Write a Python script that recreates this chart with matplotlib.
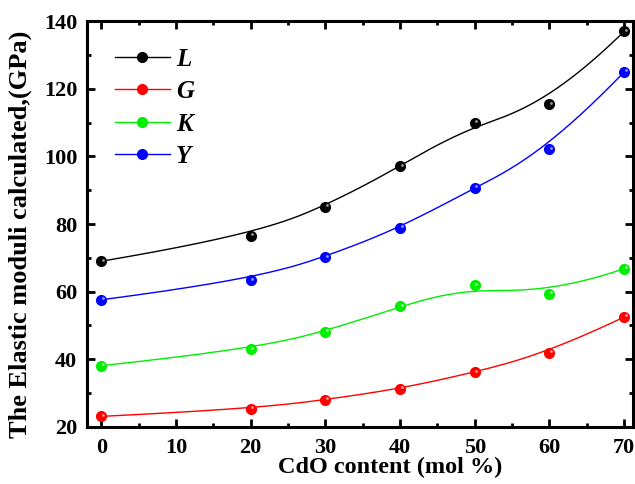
import numpy as np
import matplotlib
matplotlib.use("Agg")
import matplotlib.pyplot as plt
from matplotlib.ticker import MultipleLocator
from matplotlib.transforms import offset_copy

cdo = [0, 20, 30, 40, 50, 60, 70]
L_vals = [69.0, 76.5, 85.1, 97.1, 110.0, 115.4, 137.0]
G_vals = [23.1, 25.3, 28.0, 31.3, 36.1, 42.0, 52.5]
K_vals = [38.1, 42.9, 48.1, 55.7, 61.9, 59.3, 66.8]
Y_vals = [57.6, 63.4, 70.2, 78.9, 90.7, 102.1, 125.0]

series = [("L", L_vals, "black"), ("G", G_vals, "red"),
          ("K", K_vals, "#00ee00"), ("Y", Y_vals, "blue")]

plt.rcParams['font.family'] = ['Liberation Serif', 'DejaVu Serif']
plt.rcParams['font.weight'] = 'bold'


def bspline(px, py, num=300):
    """Clamped cubic B-spline with the data as control points (Origin-style)."""
    P = np.column_stack([px, py]).astype(float)
    n = len(P)
    k = 3
    inner = np.arange(1, n - k)
    t = np.concatenate([[0] * (k + 1), inner, [n - k] * (k + 1)]).astype(float)
    u = np.linspace(0, n - k, num)
    u[-1] -= 1e-9

    def N(i, p, u):
        if p == 0:
            return np.where((t[i] <= u) & (u < t[i + 1]), 1.0, 0.0)
        a = np.zeros_like(u)
        d1 = t[i + p] - t[i]
        if d1 > 0:
            a += (u - t[i]) / d1 * N(i, p - 1, u)
        d2 = t[i + p + 1] - t[i + 1]
        if d2 > 0:
            a += (t[i + p + 1] - u) / d2 * N(i + 1, p - 1, u)
        return a

    B = np.array([N(i, k, u) for i in range(n)])
    C = B.T @ P
    return C[:, 0], C[:, 1]


fig = plt.figure(figsize=(6.35, 4.84), dpi=100)
ax = fig.add_axes([0.137, 0.118, 0.860, 0.838])
hl = offset_copy(ax.transData, fig=fig, x=1.2, y=1.2, units='points')

for name, vals, col in series:
    sx, sy = bspline(cdo, vals)
    ax.plot(sx, sy, color=col, lw=1.0, zorder=2)
    ax.plot(cdo, vals, 'o', color=col, ms=7, mec=col, zorder=3)
    ax.plot(cdo, vals, 'o', color='white', ms=2.0, mew=0, alpha=0.6,
            transform=hl, zorder=4)
    ax.plot([], [], '-o', color=col, lw=1.0, ms=7, label=name)

ax.set_xlim(-1.9, 71.2)
ax.set_ylim(20, 140)
ax.xaxis.set_major_locator(MultipleLocator(10))
ax.xaxis.set_minor_locator(MultipleLocator(5))
ax.yaxis.set_major_locator(MultipleLocator(20))
ax.yaxis.set_minor_locator(MultipleLocator(10))
ax.tick_params(which='both', direction='in', top=True, right=True, width=2)
ax.tick_params(which='major', length=6, labelsize=16)
ax.tick_params(axis='x', which='major', pad=8)
ax.tick_params(axis='y', which='major', pad=7)
ax.tick_params(which='minor', length=3)
for lab in ax.get_xticklabels() + ax.get_yticklabels():
    lab.set_fontweight('bold')
for s in ax.spines.values():
    s.set_linewidth(2.2)

ax.set_xlabel("CdO content (mol %)", fontsize=17.5, fontweight='bold')
ax.set_ylabel("The Elastic moduli calculated,(GPa)", fontsize=19, fontweight='bold')
ax.xaxis.set_label_coords(0.555, -0.075, transform=ax.transAxes)
ax.xaxis.label.set_va('top')
ax.yaxis.set_label_coords(-0.100, 0.474, transform=ax.transAxes)

handles, labels = ax.get_legend_handles_labels()
leg = ax.legend(handles, labels, loc='upper left', bbox_to_anchor=(0.051, 0.935),
                frameon=False, handlelength=2.2, handletextpad=0.25,
                borderpad=0, borderaxespad=0,
                labelspacing=0.38, prop={'size': 18, 'weight': 'bold', 'style': 'italic'})

fig.savefig("out.png", dpi=100)
